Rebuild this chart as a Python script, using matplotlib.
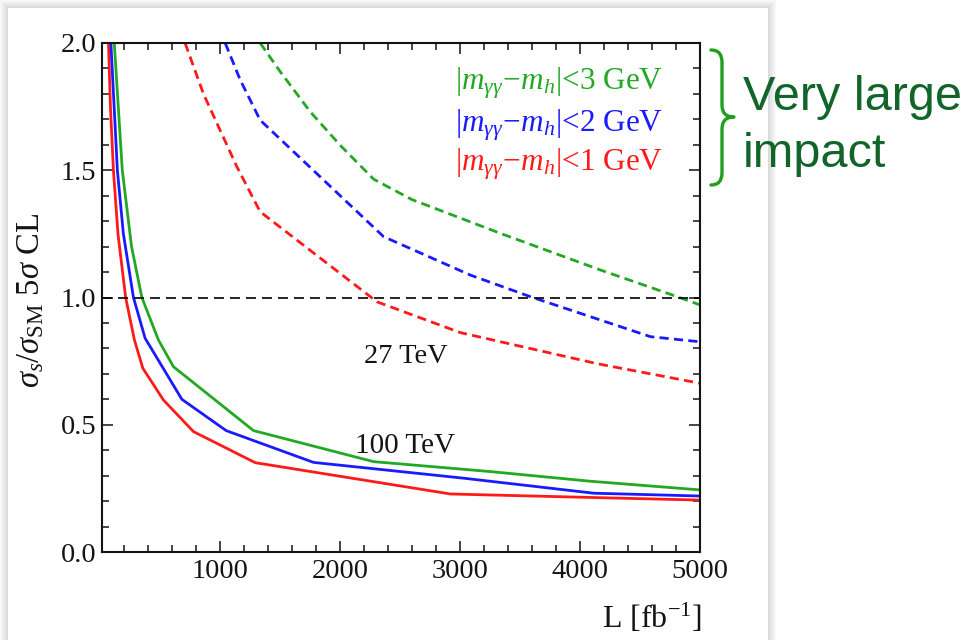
import matplotlib
matplotlib.use('Agg')
import matplotlib.pyplot as plt
from matplotlib.patches import Rectangle, PathPatch
from matplotlib.path import Path
from matplotlib.ticker import MultipleLocator

plt.rcParams['font.family'] = ['Liberation Serif', 'DejaVu Serif']
plt.rcParams['mathtext.fontset'] = 'custom'
plt.rcParams['mathtext.rm'] = 'Liberation Serif'
plt.rcParams['mathtext.it'] = 'Liberation Serif:italic'
plt.rcParams['mathtext.bf'] = 'Liberation Serif:bold'

# ---------------- data ----------------
# 100 TeV (solid)
L_100_dm1 = [74, 90, 115, 153, 217, 290, 360, 532, 782, 1296, 2921, 4115, 5000]
S_100_dm1 = [2.0, 1.75, 1.5, 1.25, 1.0, 0.833, 0.722, 0.597, 0.473, 0.351, 0.228, 0.214, 0.204]
L_100_dm2 = [94, 148, 198, 282, 379, 685, 1054, 1782, 3032, 4115, 5000]
S_100_dm2 = [2.0, 1.5, 1.25, 1.0, 0.840, 0.600, 0.477, 0.352, 0.290, 0.231, 0.220]
L_100_dm3 = [122, 189, 266, 352, 490, 615, 1282, 2282, 3254, 4088, 5000]
S_100_dm3 = [2.0, 1.5, 1.2, 1.0, 0.833, 0.728, 0.477, 0.355, 0.316, 0.278, 0.244]
# 27 TeV (dashed)
L_27_dm1 = [712, 865, 1143, 1337, 2310, 3004, 4143, 5000]
S_27_dm1 = [2.0, 1.80, 1.514, 1.337, 0.983, 0.862, 0.740, 0.663]
L_27_dm2 = [1046, 1171, 1337, 2365, 3088, 3588, 4588, 5000]
S_27_dm2 = [2.0, 1.855, 1.697, 1.239, 1.088, 1.003, 0.846, 0.826]
L_27_dm3 = [1337, 1500, 1754, 2000, 2282, 2600, 3338, 4171, 4727, 5000]
S_27_dm3 = [2.0, 1.89, 1.73, 1.60, 1.465, 1.385, 1.252, 1.108, 1.017, 0.971]

ref_level = 1.0
legend_labels = [r'$|m_{\gamma\gamma}\!-\!m_h|$<3 GeV',
                 r'$|m_{\gamma\gamma}\!-\!m_h|$<2 GeV',
                 r'$|m_{\gamma\gamma}\!-\!m_h|$<1 GeV']
x_ticks = [1000, 2000, 3000, 4000, 5000]
y_ticks = [0.0, 0.5, 1.0, 1.5, 2.0]

RED = '#ff1a1a'
BLUE = '#1a1aff'
GREEN = '#22a822'
TXT = '#141414'

W, H = 970, 640
fig = plt.figure(figsize=(9.7, 6.4), dpi=100)
fig.patch.set_facecolor('white')

def fr(px, py):
    return (px / W, 1 - py / H)

# panel with shadow
for m in range(8, 0, -1):
    g = 0.975 - 0.12 * (8 - m) / 7
    x0, y0 = fr(8 - m, H)
    x1, y1 = fr(768 + m, 8 - m)
    fig.add_artist(Rectangle((x0, y0), x1 - x0, y1 - y0, transform=fig.transFigure,
                             facecolor=(g, g, g), edgecolor='none', zorder=-20))
x0, y0 = fr(8, H)
x1, y1 = fr(768, 8)
fig.add_artist(Rectangle((x0, y0), x1 - x0, y1 - y0, transform=fig.transFigure,
                         facecolor='white', edgecolor='none', zorder=-19))

ax = fig.add_axes([102 / W, 1 - 552 / H, (700 - 102) / W, (552 - 43) / H])
ax.set_facecolor('none')

lw = 2.0
dash = (3.3, 1.9)
ax.plot(L_100_dm1, S_100_dm1, color=RED, lw=lw)
ax.plot(L_100_dm2, S_100_dm2, color=BLUE, lw=lw)
ax.plot(L_100_dm3, S_100_dm3, color=GREEN, lw=lw)
ax.plot(L_27_dm1, S_27_dm1, color=RED, lw=lw, dashes=dash)
ax.plot(L_27_dm2, S_27_dm2, color=BLUE, lw=lw, dashes=dash)
ax.plot(L_27_dm3, S_27_dm3, color=GREEN, lw=lw, dashes=dash)
ax.axhline(ref_level, color='black', lw=1.2, dashes=(6.0, 3.6))

ax.set_xlim(20, 5000)
ax.set_ylim(0, 2.0)
ax.set_xticks(x_ticks)
ax.set_yticks(y_ticks)
ax.set_yticklabels([f'{v:.1f}' for v in y_ticks])
ax.xaxis.set_minor_locator(MultipleLocator(200))
ax.yaxis.set_minor_locator(MultipleLocator(0.1))
ax.tick_params(which='both', direction='in', top=True, right=True, width=1.1,
               colors=TXT, labelsize=20.5)
ax.tick_params(which='major', length=7.7, pad=4)
ax.tick_params(which='minor', length=4.8)
ax.tick_params(axis='x', labeltop=False, pad=5)
for s in ax.spines.values():
    s.set_linewidth(1.5)
    s.set_color(TXT)

# legend-like labels
for lab, col, yb in zip(legend_labels, [GREEN, BLUE, RED], [0.909, 0.827, 0.749]):
    ax.text(0.938, yb, lab, color=col, fontsize=22.5, ha='right', va='baseline',
            transform=ax.transAxes)

ax.text(0.5075, 0.3707, '27 TeV', color=TXT, fontsize=20.5, ha='center', va='baseline',
        transform=ax.transAxes)
ax.text(0.507, 0.194, '100 TeV', color=TXT, fontsize=21, ha='center', va='baseline',
        transform=ax.transAxes)

# axis labels
fig.text(*fr(31, 300), r'$\sigma_s/\sigma_{\rm SM}$ 5$\sigma$ CL', rotation=90,
         ha='center', va='center', fontsize=23.5, color=TXT)
fig.text(*fr(702, 628), r'L [fb$^{-1}$]', ha='right', va='baseline', fontsize=23, color=TXT)

# brace
verts = [fr(711, 50), fr(722, 50), fr(722, 62), fr(722, 105), fr(722, 117), fr(734, 117),
         fr(722, 117), fr(722, 129), fr(722, 173), fr(722, 185), fr(711, 185)]
codes = [Path.MOVETO, Path.CURVE3, Path.CURVE3, Path.LINETO, Path.CURVE3, Path.CURVE3,
         Path.CURVE3, Path.CURVE3, Path.LINETO, Path.CURVE3, Path.CURVE3]
fig.add_artist(PathPatch(Path(verts, codes), transform=fig.transFigure, facecolor='none',
                         edgecolor='#1f9e1f', lw=2.4, capstyle='round', joinstyle='round'))

fig.text(*fr(743, 110), 'Very large', fontsize=35, color='#12652a', ha='left', va='baseline',
         family=['Liberation Sans', 'DejaVu Sans'])
fig.text(*fr(743, 167), 'impact', fontsize=35, color='#12652a', ha='left', va='baseline',
         family=['Liberation Sans', 'DejaVu Sans'])

fig.savefig('out.png', dpi=100)
